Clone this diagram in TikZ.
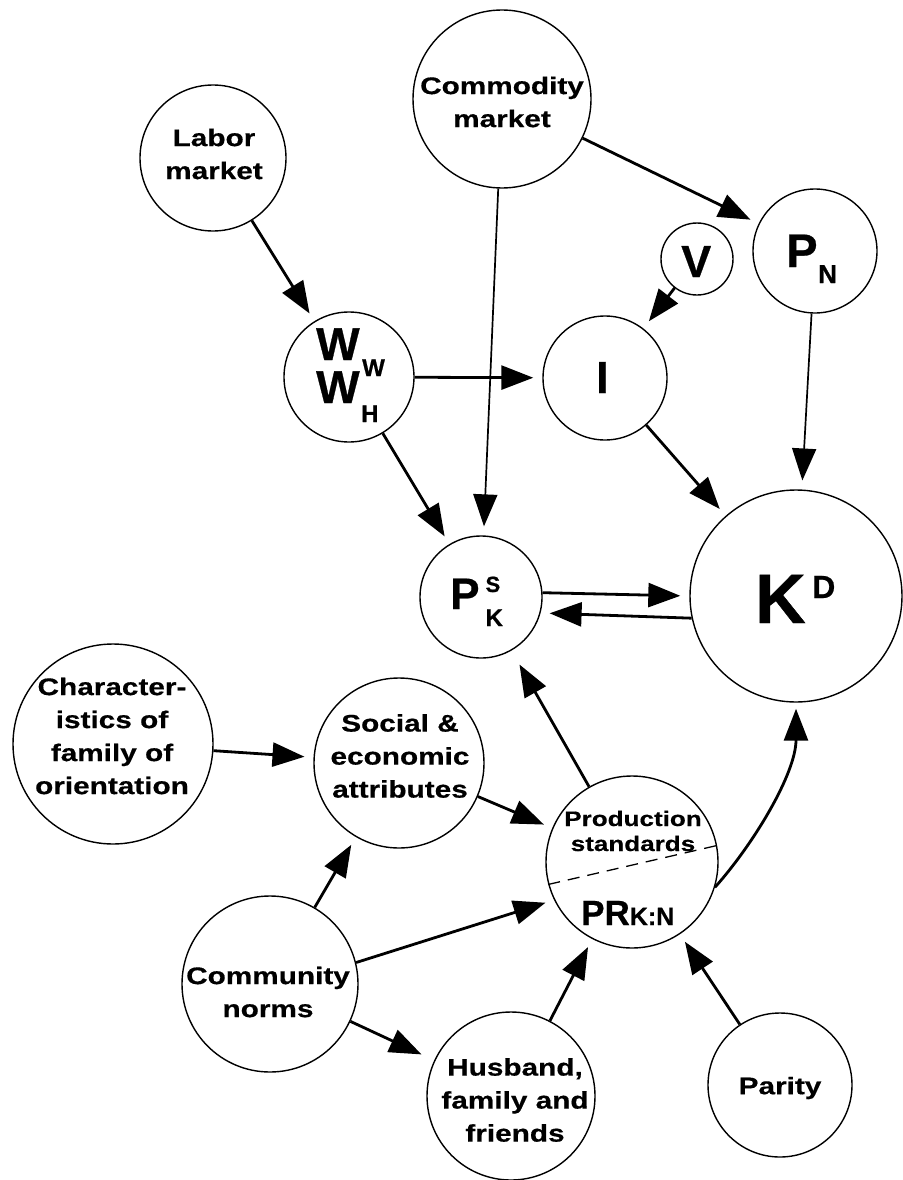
\documentclass[tikz,border=0pt]{standalone}
\usepackage{fontspec}
\setmainfont{Liberation Sans}
\newfontfamily\labfont{Liberation Sans}[FakeStretch=1.24,FakeBold=0.5]
\newfontfamily\symfont{Liberation Sans}[FakeBold=0.6]
\usetikzlibrary{arrows.meta}
\newcommand\myfs[1]{\fontsize{#1}{#1}\selectfont}
\begin{document}
\begin{tikzpicture}[x=1pt,y=-1pt,
  circ/.style={circle, draw, line width=1.4pt, minimum size=#1, inner sep=0pt},
  lbl/.style={font=\labfont\bfseries\fontsize{24}{33}\selectfont, align=center, inner sep=0pt},
  sym/.style={font=\symfont\bfseries, inner sep=0pt, anchor=base west},
  arr/.style={line width=2.8pt, -{Triangle[length=32pt,width=24pt]}, shorten >=9pt},
  tarr/.style={line width=1.7pt, -{Triangle[length=32pt,width=24pt]}, shorten >=9pt}
]
\fill[white] (0,0) rectangle (902,1180);
\useasboundingbox (0,0) rectangle (902,1180);

% circles
\node[circ=146pt] (lab) at (213,158) {};
\node[circ=178pt] (com) at (502,99) {};
\node[circ=72pt]  (v)   at (697,259) {};
\node[circ=124pt] (pn)  at (815,251) {};
\node[circ=130pt] (w)   at (349,377) {};
\node[circ=124pt] (i)   at (605,378) {};
\node[circ=122pt] (pk)  at (481,597) {};
\node[circ=212pt] (kd)  at (796,596) {};
\node[circ=200pt] (ch)  at (113,744) {};
\node[circ=170pt] (soc) at (399,763) {};
\node[circ=172pt] (pr)  at (632,862) {};
\node[circ=176pt] (cn)  at (270,984) {};
\node[circ=168pt] (hu)  at (511,1096) {};
\node[circ=144pt] (par) at (780,1085) {};

% labels
\node[lbl] (labt) at (214,154) {Labor\\market};
\node[lbl] (comt) at (502,102) {Commodity\\market};
\node[lbl] (cht) at (112,736) {Character-\\istics of\\family of\\orientation};
\node[lbl] (soct) at (400,756) {Social \&\\economic\\attributes};
\node[lbl] (cnt) at (268,992) {Community\\norms};
\node[lbl] (hut) at (515,1100) {Husband,\\family and\\friends};
\node[lbl] (part) at (780,1088) {Parity};
\node[lbl, font=\labfont\bfseries\fontsize{21}{25}\selectfont] (prt) at (633,831) {Production\\standards};

% symbols
\node[sym, font=\symfont\bfseries\myfs{46}] (w1) at (316,360) {W};
\node[sym, font=\symfont\bfseries\myfs{24}] (w1s) at (362,376) {W};
\node[sym, font=\symfont\bfseries\myfs{46}] (w2) at (316,403) {W};
\node[sym, font=\symfont\bfseries\myfs{24}] (w2s) at (361,422) {H};
\node[sym, font=\symfont\bfseries\myfs{45}] (it) at (596,393) {I};
\node[sym, font=\symfont\bfseries\myfs{45}] (vt) at (681,277) {V};
\node[sym, font=\symfont\bfseries\myfs{47}] (pnt) at (786,267) {P};
\node[sym, font=\symfont\bfseries\myfs{26}] (pns) at (818,283) {N};
\node[sym, font=\symfont\bfseries\myfs{44}] (pkt) at (450,609)
  {P\hspace{6pt}\rlap{\raisebox{17pt}{\myfs{22}S}}\raisebox{-17pt}{\myfs{24}K}};
\node[sym, font=\symfont\bfseries\myfs{70}] (kdt) at (755,623) {K};
\node[sym, font=\symfont\bfseries\myfs{32}] (kds) at (812,598) {D};
\node[sym, font=\symfont\bfseries\myfs{35}] (prk) at (581,925) {PR{\myfs{25}K:N}};

% dashed divider
\draw[line width=1.3pt, dash pattern=on 12pt off 8pt] (pr.195) -- (pr.11);

% connectors
\draw[arr] (lab) -- (w);
\draw[arr] (com) -- (pn);
\draw[tarr] (com) -- (pk);
\draw[arr] (v) -- (i);
\draw[arr] (w) -- (i);
\draw[tarr] (pn) -- (kd);
\draw[arr] (w) -- (pk);
\draw[arr] (i) -- (kd);
\draw[arr] (pk.4) -- (kd.180);
\draw[arr] (kd.192) -- (pk.-15);
\draw[arr, shorten >=16pt] (pr) -- (pk);
\draw[arr, shorten >=6pt] (pr.-17) .. controls +(40,-45) and +(0,70) .. (kd.-90);
\draw[arr] (ch) -- (soc);
\draw[arr] (soc) -- (pr);
\draw[arr] (cn) -- (soc);
\draw[arr] (cn.14) -- (pr.206);
\draw[arr, shorten >=14pt] (cn) -- (hu);
\draw[arr] (hu) -- (pr);
\draw[arr] (par) -- (pr);
\end{tikzpicture}
\end{document}
